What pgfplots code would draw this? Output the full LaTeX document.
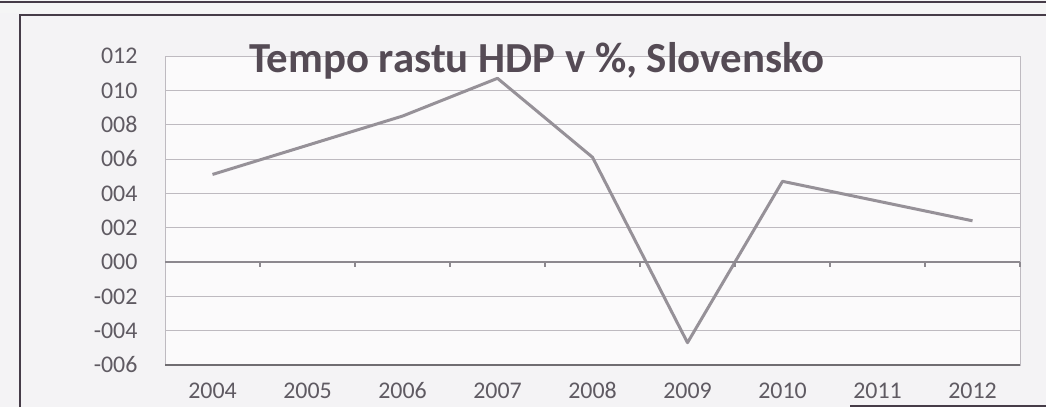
\documentclass[border=0pt]{standalone}
\usepackage{fontspec}
\setmainfont{Carlito}
\usepackage{pgfplots}
\pgfplotsset{compat=1.18}
\definecolor{bgcol}{RGB}{244,243,245}
\definecolor{linegray}{RGB}{150,145,152}
\definecolor{gridcol}{RGB}{190,186,192}
\definecolor{zerocol}{RGB}{140,136,142}
\definecolor{labcol}{RGB}{95,90,98}
\definecolor{titlecol}{RGB}{85,75,85}
\definecolor{framecol}{RGB}{70,60,72}
\begin{document}
\begin{tikzpicture}[x=1bp,y=1bp]
\fill[bgcol] (0,0) rectangle (1046,407);
\path[use as bounding box] (0,0) rectangle (1046,407);
% photo frame
\fill[white!92!gray] (0,394) rectangle (1046,407);
\draw[framecol, line width=2bp] (0,405) -- (1046,405);
\draw[framecol, line width=2.2bp] (20,0) -- (20,392) -- (1046,392);
\draw[framecol, line width=2bp] (850,1.5) -- (1046,1.5);
\begin{axis}[at={(165bp,42bp)}, anchor=south west, scale only axis,
  width=855bp, height=309bp,
  xmin=-0.5, xmax=8.5, ymin=-6, ymax=12,
  xtick={0,1,2,3,4,5,6,7,8},
  xticklabels={2004,2005,2006,2007,2008,2009,2010,2011,2012},
  ytick={-6,-4,-2,0,2,4,6,8,10,12},
  yticklabels={-006,-004,-002,000,002,004,006,008,010,012},
  major tick length=0pt,
  ymajorgrids, grid style={color=gridcol, line width=0.9bp},
  axis line style={gridcol, line width=0.9bp},
  axis background/.style={fill=white!60!bgcol},
  tick label style={font=\fontsize{24}{24}\selectfont, text=labcol},
  yticklabel style={xshift=-24bp},
  xticklabel style={yshift=-14bp},
  clip=false]
\addplot[linegray, line width=3bp, line join=round] coordinates {
  (0,5.1) (1,6.8) (2,8.5) (3,10.7) (4,6.1) (5,-4.7) (6,4.7) (7,3.55) (8,2.4)};
\draw[zerocol, line width=1.8bp] (axis cs:-0.5,0) -- (axis cs:8.5,0);
\draw[zerocol!80!black, line width=1.6bp] (axis cs:-0.5,-6) -- (axis cs:8.5,-6);
\pgfplotsinvokeforeach{0.5,1.5,2.5,3.5,4.5,5.5,6.5,7.5,8.5}{
  \draw[zerocol, line width=1.2bp] (axis cs:#1,0) -- ([yshift=-5bp]axis cs:#1,0);}
\end{axis}
\node[font=\bfseries\fontsize{43}{43}\selectfont, text=titlecol, anchor=base]
  at (537,335) {Tempo rastu HDP v \%, Slovensko};
\end{tikzpicture}
\end{document}
